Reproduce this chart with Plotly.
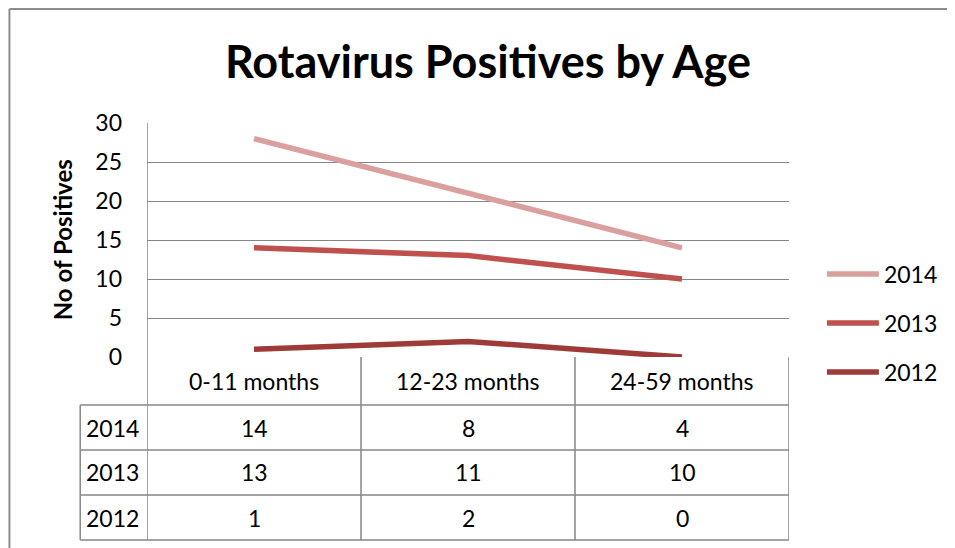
import plotly.graph_objects as go

categories = ["0-11 months", "12-23 months", "24-59 months"]
series_names = ["2012", "2013", "2014"]
values_2012 = [1, 2, 0]
values_2013 = [13, 11, 10]
values_2014 = [14, 8, 4]
y_ticks = [0, 5, 10, 15, 20, 25, 30]

series_values = [values_2012, values_2013, values_2014]
colors = {"2012": "#9E3B39", "2013": "#C0504D", "2014": "#D9A09E"}

OFF = 8  # default page body margin
W, H = 955 - OFF, 548 - OFF
# plot area in screen pixels
L, R, T, B = 147, 791, 123, 357
PW, PH = R - L, B - T

def px_x(px):
    return (px - L) / PW

def px_y(py):
    return (B - py) / PH

FONT = "Lato"
FS = 23
fig = go.Figure()

legend_names = {"2014": "legend", "2013": "legend2", "2012": "legend3"}
for name, vals in zip(series_names, series_values):
    fig.add_trace(go.Scatter(
        x=categories, y=vals, name=name, mode="lines",
        stackgroup="one", fill="none",
        line=dict(color=colors[name], width=5.5),
        legend=legend_names[name],
    ))

shapes = []
grid_color = "#868686"
# outer border (top and left)
shapes.append(dict(type="line", xref="paper", yref="paper", x0=px_x(9), x1=px_x(955), y0=px_y(9), y1=px_y(9),
                   line=dict(color="#8c8c8c", width=2)))
shapes.append(dict(type="line", xref="paper", yref="paper", x0=px_x(9), x1=px_x(9), y0=px_y(9), y1=px_y(548),
                   line=dict(color="#8c8c8c", width=2)))

# table geometry
row_edges = [405, 450, 495, 540]
label_left = 80
col_edges = [-0.5, 0.5, 1.5, 2.5]
for ce in col_edges:
    shapes.append(dict(type="line", xref="x", yref="paper", x0=ce, x1=ce,
                       y0=px_y(357), y1=px_y(row_edges[-1]),
                       line=dict(color=grid_color, width=1.5)))
shapes.append(dict(type="line", xref="x", yref="paper", x0=-0.5, x1=-0.5, y0=px_y(T), y1=px_y(357),
                   line=dict(color=grid_color, width=1.5)))
shapes.append(dict(type="line", xref="paper", yref="paper", x0=px_x(label_left), x1=px_x(label_left),
                   y0=px_y(row_edges[0]), y1=px_y(row_edges[-1]), line=dict(color=grid_color, width=1.5)))
for re_ in row_edges:
    shapes.append(dict(type="line", xref="paper", yref="paper", x0=px_x(label_left), x1=1,
                       y0=px_y(re_), y1=px_y(re_), line=dict(color=grid_color, width=1.5)))

annotations = []
for c in categories:
    annotations.append(dict(x=c, y=px_y(381), xref="x", yref="paper", text=c, showarrow=False,
                            font=dict(family=FONT, size=FS, color="#000"), xanchor="center", yanchor="middle"))
row_order = ["2014", "2013", "2012"]
row_vals = {"2012": values_2012, "2013": values_2013, "2014": values_2014}
row_centers = [428, 472, 518]
for rname, rc in zip(row_order, row_centers):
    annotations.append(dict(x=px_x(112), y=px_y(rc), xref="paper", yref="paper", text=rname, showarrow=False,
                            font=dict(family=FONT, size=FS, color="#000"), xanchor="center", yanchor="middle"))
    for c, v in zip(categories, row_vals[rname]):
        annotations.append(dict(x=c, y=px_y(rc), xref="x", yref="paper", text=str(v), showarrow=False,
                                font=dict(family=FONT, size=FS, color="#000"), xanchor="center", yanchor="middle"))
annotations.append(dict(x=px_x(62), y=px_y(240), xref="paper", yref="paper", text="<b>No of Positives</b>",
                        showarrow=False, textangle=-90, font=dict(family=FONT, size=24, color="#000"),
                        xanchor="center", yanchor="middle"))

def leg(y):
    return dict(x=px_x(824), y=px_y(y), xanchor="left", yanchor="middle", bgcolor="rgba(0,0,0,0)",
                font=dict(family=FONT, size=FS, color="#000"), itemwidth=52)

fig.update_layout(
    width=W, height=H,
    margin=dict(l=L - OFF, r=W - (R - OFF), t=T - OFF, b=H - (B - OFF)),
    paper_bgcolor="white", plot_bgcolor="white",
    title=dict(text="<b>Rotavirus Positives by Age</b>", x=px_x(489), y=1 - (62 - OFF) / H, xref="paper",
               xanchor="center", yanchor="middle", font=dict(family=FONT, size=45, color="#000")),
    xaxis=dict(type="category", range=[-0.5, 2.5], showticklabels=False, showgrid=False,
               zeroline=False, showline=False, ticks=""),
    yaxis=dict(range=[0, 30], tickvals=y_ticks, showgrid=True, gridcolor=grid_color, gridwidth=1,
               zeroline=False, showline=False, ticks="", ticklen=0,
               tickfont=dict(family=FONT, size=FS, color="#000"), ticklabelstandoff=24),
    legend=leg(274), legend2=leg(323), legend3=leg(372),
    shapes=shapes, annotations=annotations, showlegend=True,
)

fig.write_html("out.html")
